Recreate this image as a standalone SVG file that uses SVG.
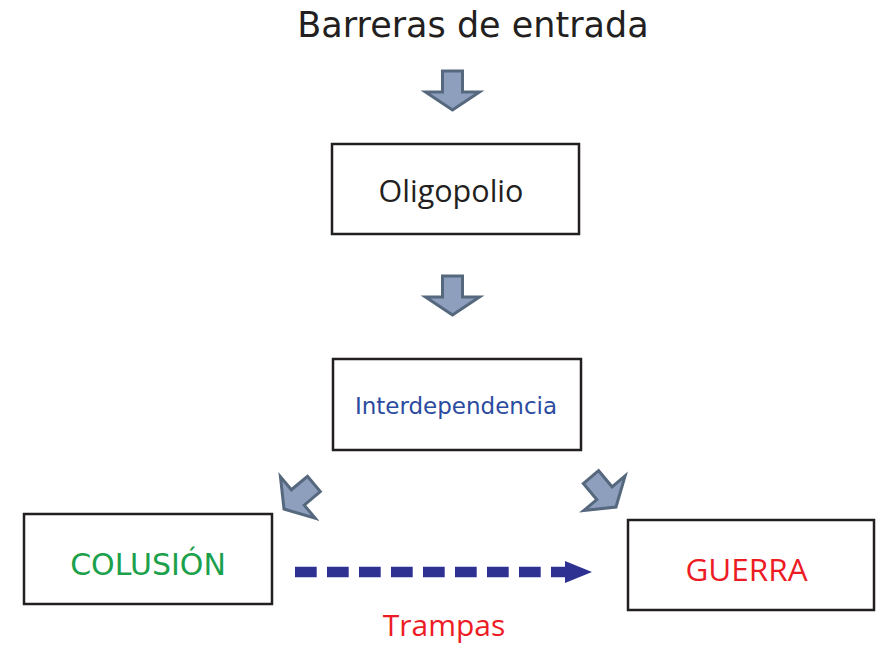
<svg xmlns="http://www.w3.org/2000/svg" width="881" height="645" viewBox="0 0 881 645">
  <style>
    .box { fill: #ffffff; stroke: #231f20; stroke-width: 2.5; }
    .blk { fill: #8e9fbd; stroke: #56687e; stroke-width: 3; stroke-linejoin: miter; }
    .dv { font-family: "DejaVu Sans", Verdana, sans-serif; text-anchor: middle; }
    .os { font-family: "Open Sans", "Liberation Sans", sans-serif; text-anchor: middle; }
  </style>
  <defs>
    <path id="blockArrow" d="M -10,-39 L 10,-39 L 10,-18 L 27,-18 L 0,0 L -27,-18 L -10,-18 Z"/>
  </defs>
  <rect width="881" height="645" fill="#ffffff"/>

  <g id="title">
    <text class="dv" x="473" y="37" font-size="35" fill="#231f20">Barreras de entrada</text>
  </g>

  <g id="oligopolio">
    <rect class="box" x="332" y="144" width="247" height="90"/>
    <text class="os" x="451" y="202" font-size="30.5" fill="#231f20">Oligopolio</text>
  </g>

  <g id="interdependencia">
    <rect class="box" x="333" y="359" width="248" height="91"/>
    <text class="dv" x="456" y="414" font-size="23" fill="#2b4ba0">Interdependencia</text>
  </g>

  <g id="colusion">
    <rect class="box" x="24" y="514" width="248" height="90"/>
    <text class="dv" x="148" y="575" font-size="30" fill="#1ba14b">COLUSIÓN</text>
  </g>

  <g id="guerra">
    <rect class="box" x="628" y="520" width="246" height="90"/>
    <text class="os" x="746.5" y="581" font-size="31.5" fill="#ed1c24">GUERRA</text>
  </g>

  <g id="connectors">
    <use href="#blockArrow" class="blk" transform="translate(452.5,110)"/>
    <use href="#blockArrow" class="blk" transform="translate(452.5,315)"/>
    <use href="#blockArrow" class="blk" transform="translate(284,509) rotate(50)"/>
    <use href="#blockArrow" class="blk" transform="translate(616,507) rotate(-40)"/>
    <line x1="295" y1="572" x2="566" y2="572" stroke="#2e3192" stroke-width="10.5" stroke-dasharray="21.7 10.3"/>
    <polygon points="565,561 592,572 565,583" fill="#2e3192"/>
    <text class="os" x="444" y="636" font-size="30" fill="#ed1c24">Trampas</text>
  </g>
</svg>
